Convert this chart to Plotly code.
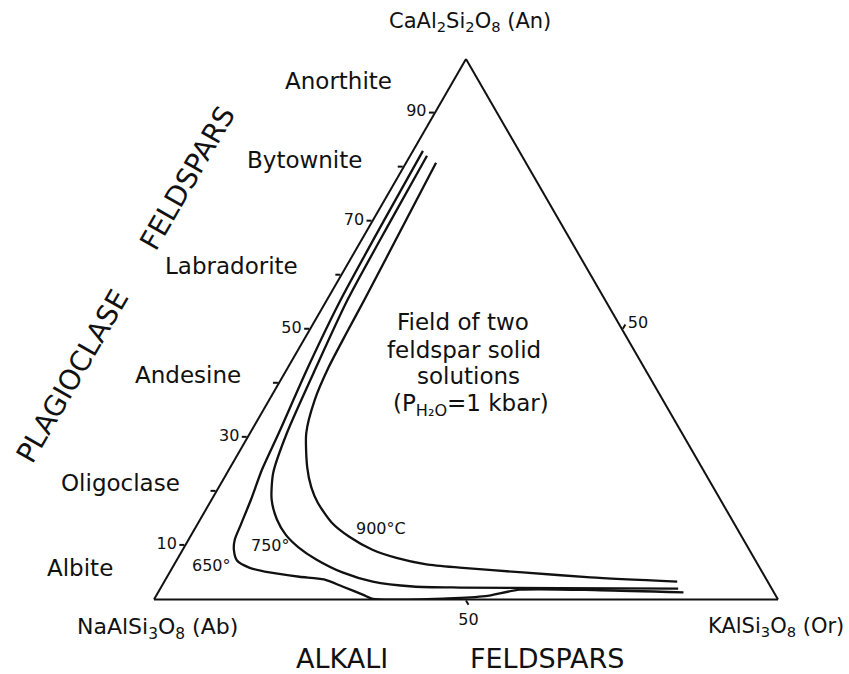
import plotly.graph_objects as go

W, H = 849, 674

# ---- data: solvus isotherms (An %, Or %); Ab = 100 - An - Or ----
an_650 = [83.0, 70.0, 55.4, 43.0, 30.8, 24.0, 18.5, 13.8, 11.1, 9.2, 7.2, 5.9, 5.0, 4.2, 3.7, 2.4, 0.9, 0.1, 0.2, 0.6, 1.8, 1.7, 1.3]
or_650 = [1.6, 1.8, 2.2, 3.2, 4.6, 5.3, 6.3, 7.0, 7.4, 8.2, 9.7, 12.3, 16.0, 21.2, 25.4, 29.0, 33.0, 35.0, 47.0, 52.8, 57.7, 70.7, 84.2]

an_750 = [82.1, 70.0, 55.4, 43.0, 30.8, 23.4, 18.5, 14.8, 12.0, 9.6, 7.4, 5.0, 3.3, 2.4, 2.2, 2.1, 2.0]
or_750 = [2.7, 2.9, 3.3, 4.5, 5.9, 7.4, 9.6, 12.3, 15.1, 18.4, 22.3, 27.7, 33.4, 40.3, 47.9, 64.0, 83.0]

an_900 = [80.8, 70.0, 55.4, 49.3, 43.0, 36.9, 30.8, 24.5, 20.8, 17.9, 14.2, 11.6, 9.2, 7.7, 6.5, 5.9, 5.0, 4.1, 3.3]
or_900 = [4.8, 5.3, 6.0, 6.2, 6.5, 7.3, 9.0, 12.3, 14.8, 17.3, 21.4, 25.5, 30.4, 35.0, 40.4, 46.0, 56.6, 67.9, 82.2]

an_ticks = [10, 20, 30, 40, 50, 60, 70, 80, 90]
an_ticktext = ["10", "", "30", "", "50", "", "70", "", "90"]
ab_ticks = [50]
ab_ticktext = ["50"]
or_ticks = [50]
or_ticktext = ["50"]

minerals = ["Anorthite", "Bytownite", "Labradorite", "Andesine", "Oligoclase", "Albite"]
mineral_pos = [(338, 81), (304, 160), (231, 266), (188, 375), (120, 483), (80, 568)]

FONT = "DejaVu Sans"
INK = "#111111"

fig = go.Figure()
for an, orr in [(an_650, or_650), (an_750, or_750), (an_900, or_900)]:
    ab = [100 - a - o for a, o in zip(an, orr)]
    fig.add_trace(go.Scatterternary(
        a=an, b=ab, c=orr, mode="lines",
        line=dict(color=INK, width=2.3, shape="spline", smoothing=0.7),
        hoverinfo="skip", showlegend=False))

axis_common = dict(showgrid=False, showline=True, linecolor=INK, linewidth=2,
                   ticks="outside", ticklen=5, tickcolor=INK, tickwidth=1.5,
                   tickfont=dict(family=FONT, size=16, color=INK), min=0, title=dict(text=""))

fig.update_layout(
    width=W, height=H,
    margin=dict(l=0, r=0, t=0, b=0),
    paper_bgcolor="white",
    showlegend=False,
    ternary=dict(
        sum=100,
        bgcolor="white",
        domain=dict(x=[154 / W, 778 / W], y=[(H - 599.5) / H, (H - 59) / H]),
        aaxis=dict(axis_common, tickmode="array", tickvals=an_ticks, ticktext=an_ticktext),
        baxis=dict(axis_common, tickmode="array", tickvals=ab_ticks, ticktext=ab_ticktext),
        caxis=dict(axis_common, tickmode="array", tickvals=or_ticks, ticktext=or_ticktext),
    ),
)

def ann(text, px, py, size, angle=0):
    fig.add_annotation(text=text, x=px / W, y=1 - py / H, xref="paper", yref="paper",
                       xanchor="center", yanchor="middle", showarrow=False, textangle=angle,
                       font=dict(family=FONT, size=size, color=INK))

ann("CaAl<sub>2</sub>Si<sub>2</sub>O<sub>8</sub> (An)", 470, 22, 21)
ann("NaAlSi<sub>3</sub>O<sub>8</sub> (Ab)", 157, 628, 22)
ann("KAlSi<sub>3</sub>O<sub>8</sub> (Or)", 776, 627, 21)
ann("ALKALI", 342, 658, 27)
ann("FELDSPARS", 547, 658, 27)
ann("PLAGIOCLASE", 72, 376, 28, -60)
ann("FELDSPARS", 187, 178, 28, -60)

for name, (px, py) in zip(minerals, mineral_pos):
    ann(name, px, py, 23)

ann("650°", 211, 565, 16)
ann("750°", 270, 545, 16)
ann("900°C", 381, 528, 16)

ann("Field of two", 463, 322, 23)
ann("feldspar solid", 464, 350, 23)
ann("solutions", 468, 376, 23)
ann("(P<sub>H₂O</sub>=1 kbar)", 471, 405, 23)

fig.write_html("out.html", config={"displayModeBar": False},
               post_script="document.body.style.margin='0';document.body.style.overflow='hidden';")
